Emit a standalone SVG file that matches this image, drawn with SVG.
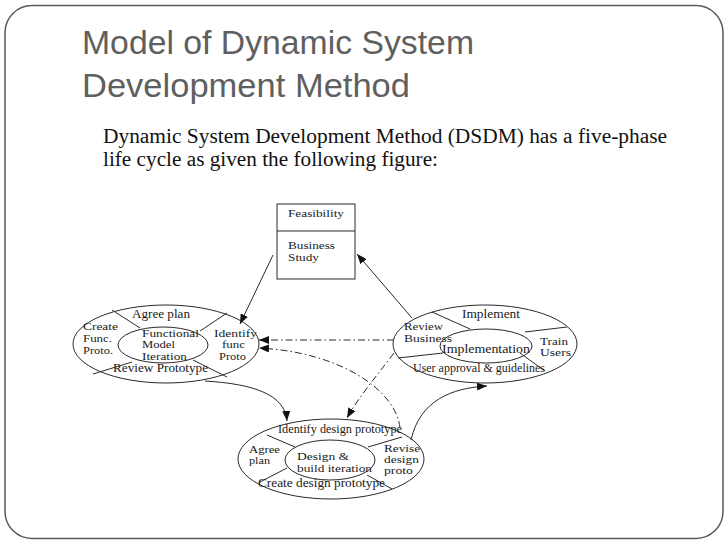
<svg xmlns="http://www.w3.org/2000/svg" width="728" height="546" viewBox="0 0 728 546">
<style>
.ttl{font-family:"Liberation Sans",Arial,sans-serif;font-size:34px;fill:#5f5f5f}
.body{font-family:"Liberation Serif","Times New Roman",serif;font-size:20px;fill:#111}
.lb{font-family:"Liberation Serif","Times New Roman",serif;font-size:11.5px;fill:#1a1a1a}
.st{font-family:"Liberation Serif","Times New Roman",serif;font-size:10.5px;fill:#1a1a1a}
.sm{font-family:"Liberation Serif","Times New Roman",serif;font-size:10.5px;fill:#1a1a1a}
.ln{fill:none;stroke:#2a2a2a;stroke-width:1}
.dd{fill:none;stroke:#2a2a2a;stroke-width:1;stroke-dasharray:7 3 1.5 3}
.sh{fill:#fff;stroke:#2a2a2a;stroke-width:1}
</style>
<defs>
<marker id="ah" viewBox="0 0 10 8" refX="10" refY="4" markerWidth="10" markerHeight="8" orient="auto" markerUnits="userSpaceOnUse">
<path d="M0,0 L10,4 L0,8 z" fill="#111"/>
</marker>
</defs>
<rect x="5" y="5.5" width="718" height="533" rx="27" fill="#fff" stroke="#5a5a5a" stroke-width="1.5"/>
<text class="ttl" x="82" y="54" textLength="392" lengthAdjust="spacingAndGlyphs">Model of Dynamic System</text>
<text class="ttl" x="82" y="97" textLength="328" lengthAdjust="spacingAndGlyphs">Development Method</text>
<text class="body" x="103" y="143" textLength="564" lengthAdjust="spacingAndGlyphs">Dynamic System Development Method (DSDM) has a five-phase</text>
<text class="body" x="103" y="166" textLength="335" lengthAdjust="spacingAndGlyphs">life cycle as given the following figure:</text>

<g id="feasibility">
<rect class="sh" x="277" y="204" width="78" height="75"/>
<line class="ln" x1="277" y1="231" x2="355" y2="231"/>
<text class="sm" x="288" y="217" textLength="56" lengthAdjust="spacingAndGlyphs">Feasibility</text>
<text class="sm" x="288" y="249" textLength="47" lengthAdjust="spacingAndGlyphs">Business</text>
<text class="sm" x="288" y="261" textLength="31" lengthAdjust="spacingAndGlyphs">Study</text>
</g>

<g id="functional-model">
<ellipse class="sh" cx="166" cy="344" rx="93" ry="39"/>
<ellipse class="ln" cx="163" cy="345" rx="45" ry="18"/>
<line class="ln" x1="112" y1="310" x2="140" y2="328"/>
<line class="ln" x1="227" y1="313" x2="200" y2="331"/>
<line class="ln" x1="93" y1="374" x2="132" y2="362"/>
<line class="ln" x1="193" y1="360" x2="227" y2="377"/>
<text class="lb" x="132" y="318" textLength="58" lengthAdjust="spacingAndGlyphs">Agree plan</text>
<text class="st" x="83" y="330" textLength="35" lengthAdjust="spacingAndGlyphs">Create</text>
<text class="st" x="83" y="342" textLength="29" lengthAdjust="spacingAndGlyphs">Func.</text>
<text class="st" x="83" y="354" textLength="30" lengthAdjust="spacingAndGlyphs">Proto.</text>
<text class="st" x="142" y="337" textLength="57" lengthAdjust="spacingAndGlyphs">Functional</text>
<text class="st" x="142" y="348" textLength="33" lengthAdjust="spacingAndGlyphs">Model</text>
<text class="st" x="142" y="359.5" textLength="45" lengthAdjust="spacingAndGlyphs">Iteration</text>
<text class="st" x="214" y="337" textLength="43" lengthAdjust="spacingAndGlyphs">Identify</text>
<text class="st" x="222" y="348" textLength="23" lengthAdjust="spacingAndGlyphs">func</text>
<text class="st" x="219" y="359.5" textLength="27" lengthAdjust="spacingAndGlyphs">Proto</text>
<text class="lb" x="113" y="372" textLength="95" lengthAdjust="spacingAndGlyphs">Review Prototype</text>
</g>

<g id="implementation">
<ellipse class="sh" cx="485" cy="344" rx="92" ry="39"/>
<ellipse class="ln" cx="486" cy="346" rx="46" ry="17"/>
<line class="ln" x1="432" y1="312" x2="470" y2="329"/>
<line class="ln" x1="525" y1="332" x2="567" y2="327"/>
<line class="ln" x1="398" y1="358" x2="443" y2="353"/>
<line class="ln" x1="520" y1="353" x2="545" y2="371"/>
<text class="lb" x="462" y="318" textLength="58" lengthAdjust="spacingAndGlyphs">Implement</text>
<text class="st" x="404" y="330" textLength="39" lengthAdjust="spacingAndGlyphs">Review</text>
<text class="st" x="404" y="342" textLength="48" lengthAdjust="spacingAndGlyphs">Business</text>
<text class="lb" x="442" y="353" textLength="88" lengthAdjust="spacingAndGlyphs">Implementation</text>
<text class="st" x="540" y="345" textLength="28" lengthAdjust="spacingAndGlyphs">Train</text>
<text class="st" x="540" y="356" textLength="31" lengthAdjust="spacingAndGlyphs">Users</text>
<text class="lb" x="413" y="372" textLength="132" lengthAdjust="spacingAndGlyphs">User approval &amp; guidelines</text>
</g>

<g id="design-build">
<ellipse class="sh" cx="331" cy="459" rx="93" ry="40"/>
<ellipse class="ln" cx="330" cy="460" rx="45" ry="20"/>
<line class="ln" x1="267" y1="435" x2="295" y2="447"/>
<line class="ln" x1="368" y1="447" x2="402" y2="437"/>
<line class="ln" x1="260" y1="482" x2="287" y2="468"/>
<line class="ln" x1="367" y1="475" x2="392" y2="489"/>
<text class="lb" x="278" y="433" textLength="124" lengthAdjust="spacingAndGlyphs">Identify design prototype</text>
<text class="st" x="249" y="453" textLength="31" lengthAdjust="spacingAndGlyphs">Agree</text>
<text class="st" x="249" y="464" textLength="21" lengthAdjust="spacingAndGlyphs">plan</text>
<text class="st" x="297" y="460" textLength="52" lengthAdjust="spacingAndGlyphs">Design &amp;</text>
<text class="st" x="297" y="471.5" textLength="75" lengthAdjust="spacingAndGlyphs">build iteration</text>
<text class="st" x="384" y="452" textLength="36" lengthAdjust="spacingAndGlyphs">Revise</text>
<text class="st" x="384" y="463" textLength="35" lengthAdjust="spacingAndGlyphs">design</text>
<text class="st" x="384" y="474" textLength="29" lengthAdjust="spacingAndGlyphs">proto</text>
<text class="lb" x="258" y="487" textLength="127" lengthAdjust="spacingAndGlyphs">Create design prototype</text>
</g>

<g id="connectors">
<path class="ln" d="M273,255 L240,324" marker-end="url(#ah)"/>
<path class="ln" d="M412,318 L357,254" marker-end="url(#ah)"/>
<path class="dd" d="M394,340 L259,340" marker-end="url(#ah)"/>
<path class="dd" d="M400,428 C396,390 340,352 259,348" marker-end="url(#ah)"/>
<path class="dd" d="M394,353 C375,378 358,398 347,418" marker-end="url(#ah)"/>
<path class="ln" d="M205,381 C255,384 285,395 287,421" marker-end="url(#ah)"/>
<path class="ln" d="M411,440 C420,400 452,388 487,386" marker-end="url(#ah)"/>
</g>
</svg>
